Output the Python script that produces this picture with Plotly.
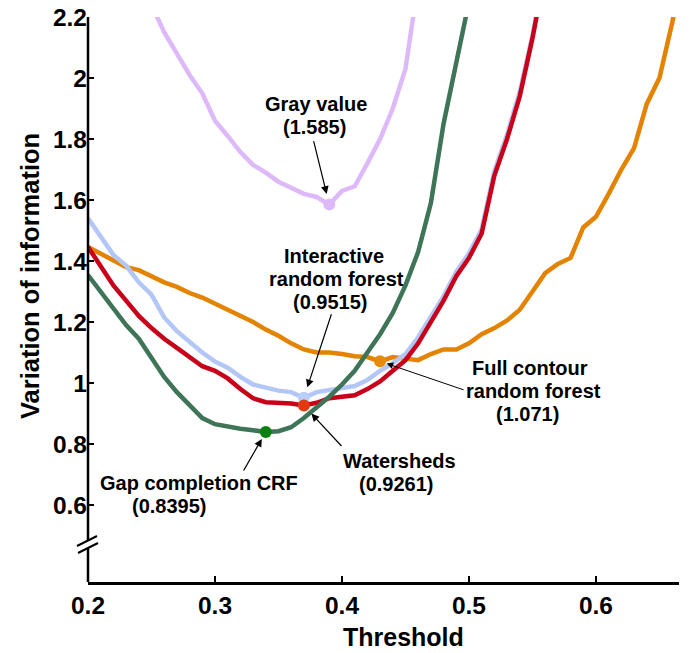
import plotly.graph_objects as go

# ---- data: variation of information vs. threshold for each method ----
thr_gray = [0.25, 0.26, 0.27, 0.28, 0.29, 0.30, 0.31, 0.32, 0.33, 0.34, 0.35,
            0.36, 0.37, 0.38, 0.39, 0.40, 0.41, 0.42, 0.43, 0.44, 0.45, 0.46]
vi_gray = [2.24, 2.15, 2.08, 2.01, 1.95, 1.86, 1.81, 1.757, 1.715, 1.69, 1.66,
           1.64, 1.62, 1.61, 1.585, 1.63, 1.645, 1.72, 1.80, 1.90, 2.03, 2.31]

thr_full = [0.20, 0.21, 0.22, 0.23, 0.24, 0.25, 0.26, 0.27, 0.28, 0.29, 0.30,
            0.31, 0.32, 0.33, 0.34, 0.35, 0.36, 0.37, 0.38, 0.39, 0.40, 0.41,
            0.42, 0.43, 0.44, 0.45, 0.46, 0.47, 0.48, 0.49, 0.50, 0.51, 0.52,
            0.53, 0.54, 0.55, 0.56, 0.57, 0.58, 0.59, 0.60, 0.61, 0.62, 0.63,
            0.64, 0.65, 0.66, 0.67]
vi_full = [1.446, 1.425, 1.403, 1.38, 1.37, 1.35, 1.33, 1.315, 1.295, 1.28, 1.26,
           1.24, 1.22, 1.20, 1.175, 1.155, 1.13, 1.11, 1.10, 1.10, 1.095, 1.088,
           1.085, 1.071, 1.085, 1.08, 1.075, 1.095, 1.11, 1.11, 1.13, 1.16, 1.18,
           1.205, 1.24, 1.30, 1.36, 1.39, 1.41, 1.51, 1.545, 1.62, 1.70, 1.77,
           1.915, 2.00, 2.18, 2.40]

thr_irf = [0.20, 0.21, 0.22, 0.23, 0.24, 0.25, 0.26, 0.27, 0.28, 0.29, 0.30,
           0.31, 0.32, 0.33, 0.34, 0.35, 0.36, 0.37, 0.38, 0.39, 0.40, 0.41,
           0.42, 0.43, 0.44, 0.45, 0.46, 0.47, 0.48, 0.49, 0.50, 0.51, 0.52,
           0.53, 0.54, 0.55, 0.56]
vi_irf = [1.54, 1.48, 1.42, 1.385, 1.33, 1.29, 1.215, 1.17, 1.135, 1.10, 1.07,
          1.05, 1.02, 0.995, 0.985, 0.975, 0.97, 0.9515, 0.97, 0.977, 0.983, 0.99,
          1.01, 1.04, 1.065, 1.095, 1.15, 1.22, 1.285, 1.365, 1.425, 1.505, 1.695,
          1.815, 1.955, 2.14, 2.36]

thr_ws = [0.20, 0.21, 0.22, 0.23, 0.24, 0.25, 0.26, 0.27, 0.28, 0.29, 0.30,
          0.31, 0.32, 0.33, 0.34, 0.35, 0.36, 0.37, 0.38, 0.39, 0.40, 0.41,
          0.42, 0.43, 0.44, 0.45, 0.46, 0.47, 0.48, 0.49, 0.50, 0.51, 0.52,
          0.53, 0.54, 0.55, 0.56]
vi_ws = [1.446, 1.38, 1.32, 1.27, 1.22, 1.18, 1.145, 1.115, 1.085, 1.055, 1.04,
         1.015, 0.98, 0.95, 0.937, 0.935, 0.933, 0.9261, 0.935, 0.95, 0.955, 0.96,
         0.98, 1.005, 1.04, 1.075, 1.13, 1.20, 1.27, 1.35, 1.41, 1.49, 1.68,
         1.80, 1.94, 2.13, 2.35]

thr_gap = [0.20, 0.21, 0.22, 0.23, 0.24, 0.25, 0.26, 0.27, 0.28, 0.29, 0.30,
           0.31, 0.32, 0.33, 0.34, 0.35, 0.36, 0.37, 0.38, 0.39, 0.40, 0.41,
           0.42, 0.43, 0.44, 0.45, 0.46, 0.47, 0.48, 0.49, 0.50]
vi_gap = [1.354, 1.30, 1.25, 1.19, 1.145, 1.08, 1.02, 0.97, 0.925, 0.885, 0.865,
          0.857, 0.85, 0.845, 0.8395, 0.842, 0.855, 0.885, 0.92, 0.955, 0.995, 1.04,
          1.10, 1.16, 1.23, 1.32, 1.43, 1.59, 1.85, 2.04, 2.25]

# best (minimum) point of each method, labelled on the chart
best_names = ["Gray value", "Full contour random forest", "Interactive random forest",
              "Watersheds", "Gap completion CRF"]
best_thr = [0.39, 0.43, 0.37, 0.37, 0.34]
best_vi = [1.585, 1.071, 0.9515, 0.9261, 0.8395]

x_ticks = [0.2, 0.3, 0.4, 0.5, 0.6]
x_ticktext = ["0.2", "0.3", "0.4", "0.5", "0.6"]
y_ticks = [0.6, 0.8, 1.0, 1.2, 1.4, 1.6, 1.8, 2.0, 2.2]
y_ticktext = ["0.6", "0.8", "1", "1.2", "1.4", "1.6", "1.8", "2", "2.2"]

# ---- styling ----
C_GRAY = "#DDB9F9"
C_FULL = "#E38300"
C_IRF = "#B3C7F7"
C_WS = "#C8001A"
C_GAP = "#3E7457"
M_COLORS = ["#DDB9F9", "#E58A0A", "#B9CEF8", "#E3390F", "#0A8010"]
FONT = "Liberation Sans, Arial, Helvetica, sans-serif"
LW = 4.5

fig = go.Figure()
for xs, ys, col in [(thr_gray, vi_gray, C_GRAY), (thr_full, vi_full, C_FULL),
                    (thr_irf, vi_irf, C_IRF), (thr_ws, vi_ws, C_WS),
                    (thr_gap, vi_gap, C_GAP)]:
    fig.add_trace(go.Scatter(x=xs, y=ys, mode="lines",
                             line=dict(color=col, width=LW), showlegend=False,
                             hoverinfo="x+y"))

for i in range(len(best_thr)):
    fig.add_trace(go.Scatter(x=[best_thr[i]], y=[best_vi[i]], mode="markers",
                             marker=dict(color=M_COLORS[i], size=12),
                             showlegend=False, name=best_names[i]))

# label lines (pixel offsets from the minimum point) and arrow geometry
label_lines = {
    0: [("Gray value", -13, 101), ("({v})", -15, 78)],
    1: [("Full contour", 150, -7), ("random forest", 153, -30), ("({v})", 147, -53)],
    2: [("Interactive", 30, 142), ("random forest", 33, 119), ("({v})", 27, 96)],
    3: [("Watersheds", 96, -55), ("({v})", 93, -78)],
    4: [("Gap completion CRF", -67, -51), ("({v})", -96, -74)],
}
arrows = {0: (-16, -65, 11, 1.2), 1: (85, 29, 7, 1.0), 2: (28, -85, 11, 1.2),
          3: (39, 42, 11, 1.2), 4: (-23, 40, 8, 1.2)}

annotations = []
for i in range(len(best_thr)):
    val = f"{best_vi[i]:.4g}"
    for text, xs, ys in label_lines[i]:
        annotations.append(dict(
            x=best_thr[i], y=best_vi[i], xref="x", yref="y",
            text=text.format(v=val), showarrow=False,
            xshift=xs, yshift=ys, xanchor="center", yanchor="middle",
            font=dict(family=FONT, size=20, color="black", weight="bold")))
    ax, ay, so, aw = arrows[i]
    annotations.append(dict(
        x=best_thr[i], y=best_vi[i], xref="x", yref="y", text="",
        showarrow=True, ax=ax, ay=ay, axref="pixel", ayref="pixel",
        arrowhead=2, arrowsize=1.3, arrowwidth=aw, arrowcolor="black",
        standoff=so))

annotations.append(dict(text="Threshold", xref="paper", yref="paper",
                        x=0.533, y=-0.097, showarrow=False,
                        xanchor="center", yanchor="middle",
                        font=dict(family=FONT, size=25, color="black", weight="bold")))
annotations.append(dict(text="Variation of information", xref="paper", yref="paper",
                        x=-0.097, y=0.541, showarrow=False, textangle=-90,
                        xanchor="center", yanchor="middle",
                        font=dict(family=FONT, size=25.5, color="black", weight="bold")))

# broken y axis: two line segments plus the break marks
shapes = [
    dict(type="line", xref="paper", yref="paper", x0=0, x1=0, y0=0.0735, y1=1,
         line=dict(color="black", width=2.5)),
    dict(type="line", xref="paper", yref="paper", x0=0, x1=0, y0=0, y1=0.0602,
         line=dict(color="black", width=2.5)),
    dict(type="line", xref="paper", yref="paper", x0=-0.0186, x1=0.0152,
         y0=0.0637, y1=0.0814, line=dict(color="black", width=2)),
    dict(type="line", xref="paper", yref="paper", x0=-0.0169, x1=0.0169,
         y0=0.0513, y1=0.069, line=dict(color="black", width=2)),
]

tickfont = dict(family=FONT, size=24.5, color="black", weight="bold")
fig.update_layout(
    width=691, height=653,
    margin=dict(l=88, r=12, t=17, b=71, autoexpand=False),
    paper_bgcolor="white", plot_bgcolor="white",
    font=dict(family=FONT, color="black"),
    xaxis=dict(range=[0.2, 0.6654], tickvals=x_ticks, ticktext=x_ticktext,
               ticks="inside", ticklen=6, tickwidth=2, tickcolor="black",
               showline=True, linewidth=2.5, linecolor="black", automargin=False,
               showgrid=False, zeroline=False, tickfont=tickfont),
    yaxis=dict(range=[0.3475, 2.2], tickvals=y_ticks, ticktext=y_ticktext,
               ticks="inside", ticklen=6, tickwidth=2, tickcolor="black",
               showline=False, showgrid=False, zeroline=False, automargin=False,
               tickfont=tickfont),
    annotations=annotations,
    shapes=shapes,
)

fig.write_html("out.html")
